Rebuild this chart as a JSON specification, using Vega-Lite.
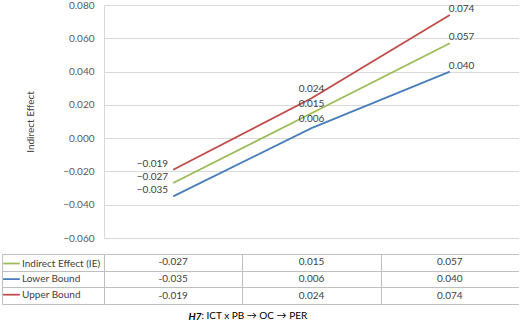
{
  "$schema": "https://vega.github.io/schema/vega-lite/v6.json",
  "padding": {"left": 1, "top": 0, "right": 0, "bottom": 0},
  "background": "white",
  "config": {
    "font": "Lato",
    "view": {"stroke": null}
  },
  "datasets": {
    "effects": [
      {"level": "Low", "series": "Indirect Effect (IE)", "value": -0.027},
      {"level": "Mean", "series": "Indirect Effect (IE)", "value": 0.015},
      {"level": "High", "series": "Indirect Effect (IE)", "value": 0.057},
      {"level": "Low", "series": "Lower Bound", "value": -0.035},
      {"level": "Mean", "series": "Lower Bound", "value": 0.006},
      {"level": "High", "series": "Lower Bound", "value": 0.040},
      {"level": "Low", "series": "Upper Bound", "value": -0.019},
      {"level": "Mean", "series": "Upper Bound", "value": 0.024},
      {"level": "High", "series": "Upper Bound", "value": 0.074}
    ]
  },
  "title": {
    "text": ": ICT x PB → OC → PER",
    "orient": "bottom",
    "anchor": "start",
    "frame": "bounds",
    "dx": 200,
    "offset": -10,
    "fontSize": 10,
    "fontWeight": "normal",
    "color": "#000000"
  },
  "spacing": 10,
  "resolve": {"scale": {"x": "independent", "y": "independent", "color": "shared"}},
  "vconcat": [
    {
      "width": 415,
      "height": 233,
      "data": {"name": "effects"},
      "encoding": {
        "x": {
          "field": "level",
          "type": "nominal",
          "sort": ["Low", "Mean", "High"],
          "scale": {"type": "point", "padding": 0.5},
          "axis": null
        },
        "y": {
          "field": "value",
          "type": "quantitative",
          "scale": {"domain": [-0.06, 0.08], "nice": false, "zero": false},
          "axis": {
            "values": [-0.06, -0.04, -0.02, 0, 0.02, 0.04, 0.06, 0.08],
            "format": ".3f",
            "grid": true,
            "gridColor": "#d9d9d9",
            "domain": true,
            "domainColor": "#d9d9d9",
            "ticks": false,
            "labelPadding": 10,
            "labelFontSize": 10,
            "labelColor": "#595959",
            "title": "Indirect Effect",
            "titleFontSize": 10,
            "titleFontWeight": "normal",
            "titleColor": "#404040",
            "titlePadding": 27
          }
        }
      },
      "layer": [
        {
          "mark": {"type": "line", "strokeWidth": 1.75},
          "encoding": {
            "color": {
              "field": "series",
              "type": "nominal",
              "scale": {
                "domain": ["Indirect Effect (IE)", "Lower Bound", "Upper Bound"],
                "range": ["#9bbb59", "#4a7ebb", "#be4b48"]
              },
              "legend": {
                "orient": "none",
                "legendX": -102,
                "legendY": 249,
                "title": null,
                "symbolType": "stroke",
                "symbolSize": 280,
                "symbolStrokeWidth": 1.75,
                "labelFontSize": 10,
                "labelColor": "#404040",
                "labelOffset": 1,
                "rowPadding": 0.6,
                "padding": 0,
                "offset": 0
              }
            }
          }
        },
        {
          "transform": [{"filter": "datum.level === 'Low'"}],
          "mark": {"type": "text", "align": "right", "dx": -5, "dy": -6, "fontSize": 10, "color": "#404040"},
          "encoding": {"text": {"field": "value", "format": ".3f"}}
        },
        {
          "transform": [{"filter": "datum.level === 'Mean'"}],
          "mark": {"type": "text", "align": "center", "dx": 0, "dy": -9, "fontSize": 10, "color": "#404040"},
          "encoding": {"text": {"field": "value", "format": ".3f"}}
        },
        {
          "transform": [{"filter": "datum.level === 'High'"}],
          "mark": {"type": "text", "align": "left", "dx": -1, "dy": -6, "fontSize": 10, "color": "#404040"},
          "encoding": {"text": {"field": "value", "format": ".3f"}}
        }
      ]
    },
    {
      "width": 415,
      "height": 50,
      "data": {"name": "effects"},
      "transform": [
        {"calculate": "replace(format(datum.value, '.3f'), '\u2212', '-')", "as": "cell"}
      ],
      "mark": {"type": "text", "fontSize": 10, "color": "#404040"},
      "encoding": {
        "x": {
          "field": "level",
          "type": "nominal",
          "sort": ["Low", "Mean", "High"],
          "scale": {"type": "band", "paddingInner": 0, "paddingOuter": 0},
          "axis": {
            "orient": "bottom",
            "labels": false,
            "ticks": false,
            "domain": false,
            "grid": true,
            "tickBand": "extent",
            "gridColor": "#bfbfbf",
            "title": "H7",
            "titleFontSize": 10,
            "titleFontStyle": "italic",
            "titleFontWeight": "bold",
            "titleColor": "#000000",
            "titleAlign": "left",
            "titleAnchor": "start",
            "titleBaseline": "top",
            "titleX": 84,
            "titleY": 7
          }
        },
        "y": {
          "field": "series",
          "type": "nominal",
          "sort": ["Indirect Effect (IE)", "Lower Bound", "Upper Bound"],
          "scale": {"type": "band", "paddingInner": 0, "paddingOuter": 0},
          "axis": {
            "orient": "left",
            "offset": 102,
            "labels": false,
            "ticks": true,
            "tickSize": -102,
            "tickBand": "extent",
            "tickColor": "#bfbfbf",
            "domain": true,
            "domainColor": "#bfbfbf",
            "grid": true,
            "gridColor": "#bfbfbf",
            "title": null
          }
        },
        "text": {"field": "cell"}
      }
    }
  ]
}
